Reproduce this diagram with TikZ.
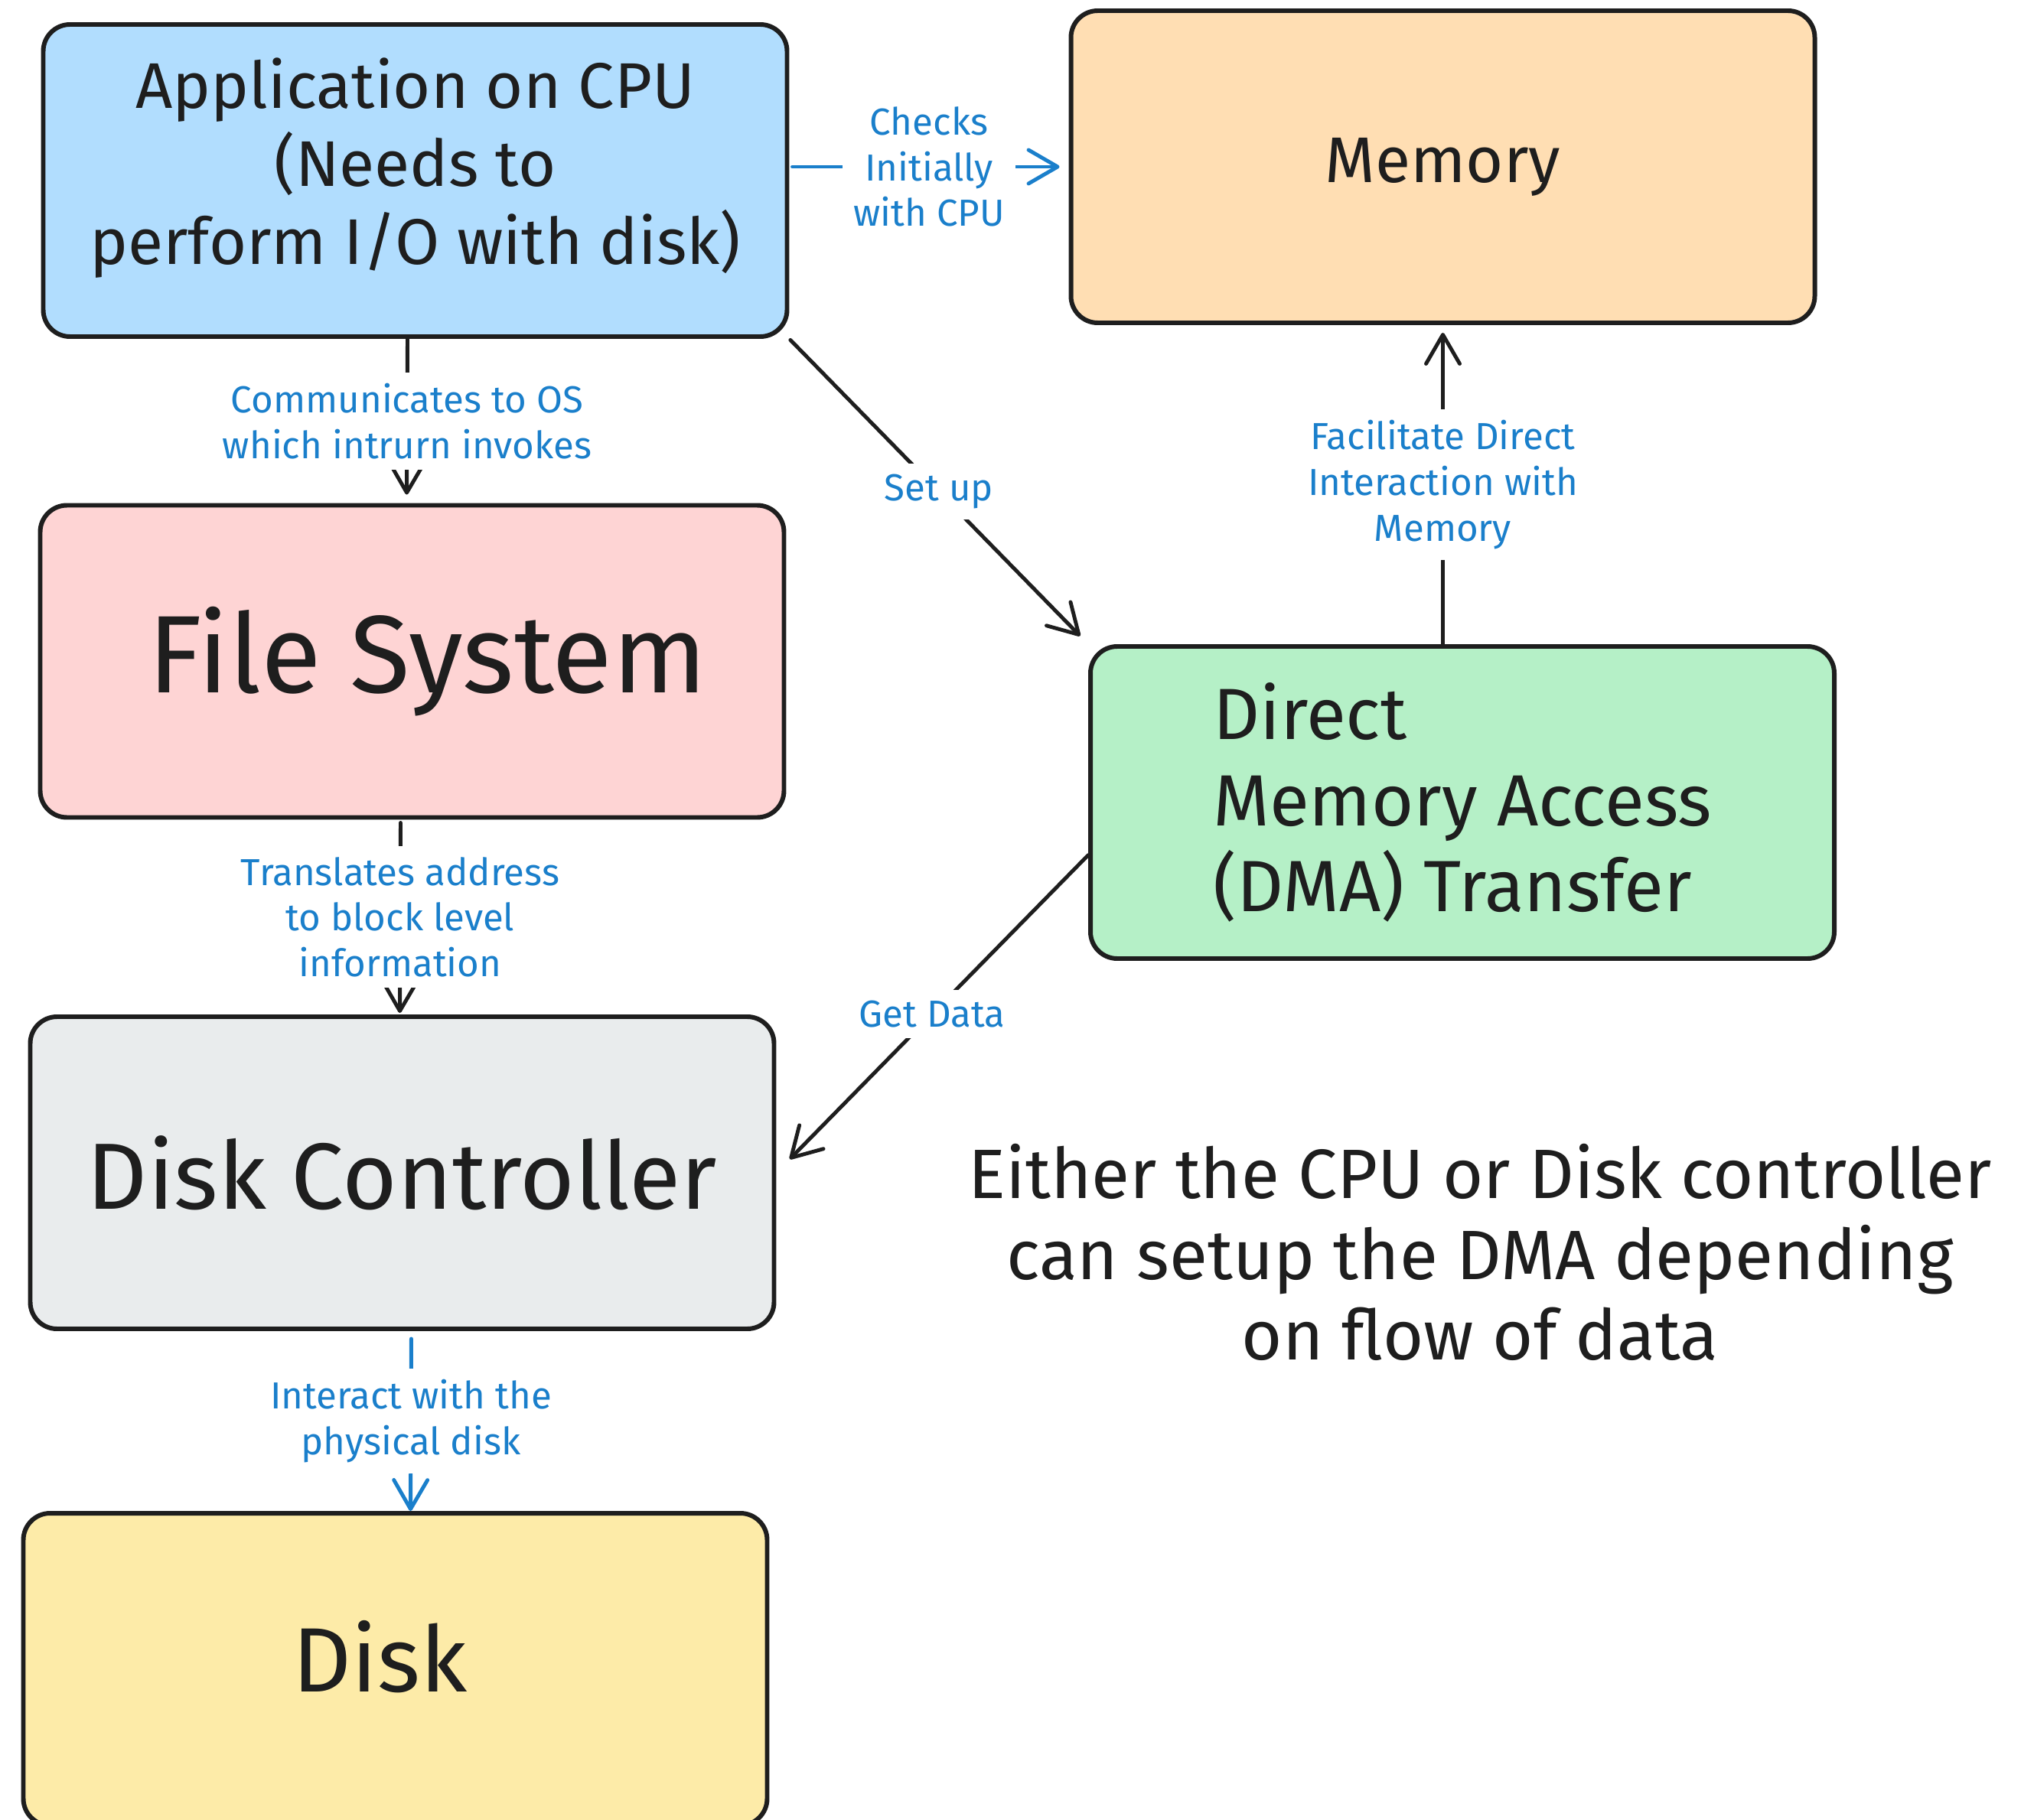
\documentclass[tikz,border=0pt]{standalone}
\usepackage{fontspec}
\setmainfont{Fira Sans}
\usetikzlibrary{arrows.meta}

\definecolor{ink}{HTML}{1E1E1E}
\definecolor{lblblue}{HTML}{1A7FCB}
\definecolor{appblue}{HTML}{B1DDFE}
\definecolor{memorange}{HTML}{FFDEB3}
\definecolor{fsred}{HTML}{FED4D4}
\definecolor{dmagreen}{HTML}{B5F0C7}
\definecolor{dcgray}{HTML}{E9ECED}
\definecolor{diskyellow}{HTML}{FDEBA8}

\begin{document}
\begin{tikzpicture}[
	box/.style={draw=ink, line width=1.7pt, rounded corners=0.35cm, minimum width=9.72cm, minimum height=4.08cm, inner sep=0pt, align=center, text=ink},
	lbl/.style={text=lblblue, fill=white, font=\fontsize{14}{17}\selectfont, align=center, inner sep=4pt},
	link/.style={draw=ink, line width=1.4pt, line cap=round, -{Straight Barb[length=3.8mm,width=4.4mm,round]}},
	bluelink/.style={link, draw=lblblue}]
	
	\useasboundingbox (0,0) rectangle (26.58,-23.79);
	\clip (0,0) rectangle (26.58,-23.79);
	
	\node[box, fill=appblue, font=\fontsize{24}{29}\selectfont, text depth=0.5cm] (app) at (5.425,-2.36) {Application on CPU\\(Needs to\\perform I/O with disk)};
	\node[box, fill=memorange, font=\fontsize{24}{29}\selectfont] (mem) at (18.855,-2.18) {Memory};
	\node[box, fill=fsred, font=\fontsize{41}{46}\selectfont] (fs) at (5.385,-8.645) {\hspace*{0.4cm}File System};
	\node[box, fill=dmagreen, font=\fontsize{27}{32}\selectfont, align=left] (dma) at (19.11,-10.49) {Direct\\Memory Access\\(DMA) Transfer};
	\node[box, fill=dcgray, font=\fontsize{35}{40}\selectfont] (dc) at (5.255,-15.33) {Disk Controller};
	\node[box, fill=diskyellow, font=\fontsize{34}{40}\selectfont] (disk) at (5.165,-21.82) {Disk\hspace*{0.4cm}\raisebox{0pt}[0pt][0.35cm]{}};
	
	\node[text=ink, align=center, font=\fontsize{26}{30}\selectfont] (note) at (19.34,-16.37) {Either the CPU or Disk controller\\can setup the DMA depending\\on flow of data};
	
	\draw[bluelink, shorten <=0.04cm, shorten >=0.12cm] (app.east |- mem.west) -- (mem.west)
		node[lbl, midway] {Checks\\Initially\\with CPU};
	\draw[link, shorten >=0.11cm] ([xshift=-0.1cm]app.south) -- ([xshift=-0.07cm]fs.north)
		node[lbl, midway] {Communicates to OS\\which intrurn invokes};
	\draw[link, shorten <=0.02cm, shorten >=0.15cm] (app.south east) -- (dma.north west)
		node[lbl, midway] {Set up};
	\draw[link, shorten >=0.1cm] (dma.north -| mem.south) -- (mem.south)
		node[lbl, midway] {Facilitate Direct\\Interaction with\\Memory};
	\draw[link, shorten >=0.25cm] (dma.188) -- (dc.east)
		node[lbl, midway] {Get Data};
	\draw[link, shorten <=0.04cm, shorten >=0.02cm] ([xshift=-0.15cm]fs.south) -- ([xshift=-0.03cm]dc.north)
		node[lbl, midway] {Translates address\\to block level\\information};
	\draw[bluelink, shorten <=0.1cm] ([xshift=0.12cm]dc.south) -- ([xshift=0.2cm]disk.north)
		node[lbl, midway] {Interact with the\\physical disk};
\end{tikzpicture}
\end{document}
